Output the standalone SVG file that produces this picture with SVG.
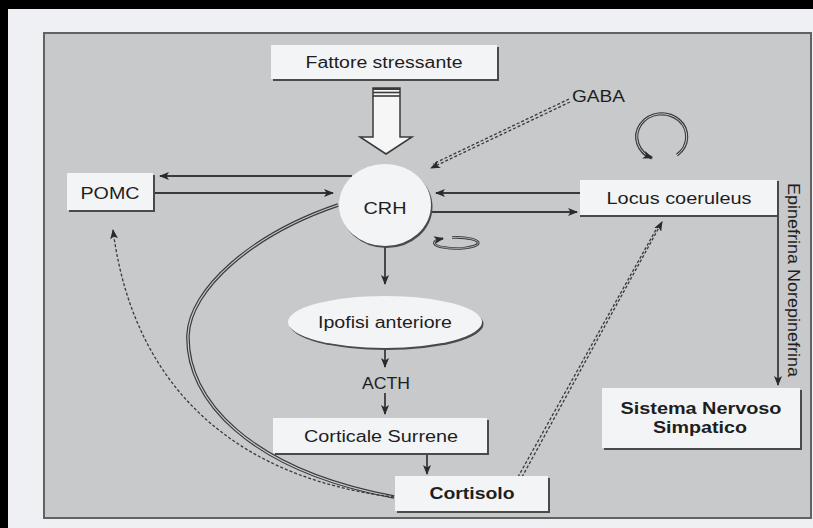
<svg xmlns="http://www.w3.org/2000/svg" width="813" height="528" viewBox="0 0 813 528">
<defs>
<style>
.t{font-family:"Liberation Sans",Arial,sans-serif;font-size:16px;fill:#1e1e1e}
.b{font-weight:bold}
.box{fill:#f3f4f6}
.sh{fill:#4a4a4a}
.ln{stroke:#3a3a3a;stroke-width:1.8;fill:none}
.dl{stroke:#3a3a3a;stroke-width:1.3;fill:none;stroke-dasharray:3 2}
</style>
<marker id="ah" viewBox="0 0 10 8" refX="9" refY="4" markerWidth="10" markerHeight="8" markerUnits="userSpaceOnUse" orient="auto">
<path d="M0,0 L10,4 L0,8 L2.5,4 Z" fill="#2a2a2a"/>
</marker>
</defs>
<rect x="0" y="0" width="813" height="528" fill="#eef0f3"/>
<rect x="0" y="0" width="813" height="9" fill="#000"/>
<rect x="0" y="0" width="8" height="528" fill="#000"/>
<rect x="44" y="33" width="767" height="485" fill="#c8c9cb" stroke="#626262" stroke-width="2"/>

<g id="connectors">
<line class="ln" x1="352" y1="176" x2="160" y2="176" marker-end="url(#ah)"/>
<line class="ln" x1="154" y1="193" x2="333" y2="193" marker-end="url(#ah)"/>
<line class="ln" x1="580" y1="193" x2="436" y2="193" marker-end="url(#ah)"/>
<line class="ln" x1="431" y1="212" x2="577" y2="212" marker-end="url(#ah)"/>
<line class="ln" x1="385" y1="247" x2="385" y2="284" marker-end="url(#ah)"/>
<line class="ln" x1="385" y1="349" x2="385" y2="367" marker-end="url(#ah)"/>
<line class="ln" x1="385" y1="393" x2="385" y2="414" marker-end="url(#ah)"/>
<line class="ln" x1="427" y1="454" x2="427" y2="474" marker-end="url(#ah)"/>
<line class="ln" x1="778" y1="181" x2="778" y2="385" marker-end="url(#ah)"/>
<!-- GABA double dashed -->
<line class="dl" x1="569" y1="99" x2="433" y2="164"/>
<line class="dl" x1="570" y1="102" x2="431" y2="168" marker-end="url(#ah)"/>
<!-- Cortisolo to Locus double dashed -->
<line class="dl" x1="518" y1="477" x2="658" y2="226"/>
<line class="dl" x1="522" y1="477" x2="662" y2="222" marker-end="url(#ah)"/>
<!-- double solid curve CRH to Cortisolo -->
<path d="M338,205 C250,235 190,290 188,335 C186,400 250,470 394,497" stroke="#3a3a3a" stroke-width="3.6" fill="none"/>
<path d="M338,205 C250,235 190,290 188,335 C186,400 250,470 394,497" stroke="#c8c9cb" stroke-width="1.2" fill="none"/>
<!-- dashed curve Cortisolo to POMC -->
<path class="dl" d="M394,497 C250,480 135,400 113,230" stroke-width="1.6" marker-end="url(#ah)"/>
<!-- Locus self loop -->
<path d="M677,155 A25,23 0 1 0 652,158" stroke="#3a3a3a" stroke-width="3.2" fill="none"/>
<path d="M677,155 A25,23 0 1 0 652,158" stroke="#c8c9cb" stroke-width="1" fill="none" marker-end="url(#ah)"/>
<!-- CRH small loop -->
<path d="M452,237.5 A22,5.5 0 1 1 443,238.5" stroke="#3a3a3a" stroke-width="2.6" fill="none"/>
<path d="M452,237.5 A22,5.5 0 1 1 443,238.5" stroke="#c8c9cb" stroke-width="0.8" fill="none" marker-end="url(#ah)"/>
</g>

<g id="fattore">
<rect class="sh" x="273" y="47" width="226" height="34"/>
<rect class="box" x="271" y="45" width="226" height="34"/>
<text class="t" x="384" y="68" text-anchor="middle" textLength="157" lengthAdjust="spacingAndGlyphs">Fattore stressante</text>
</g>

<g id="big-arrow">
<path d="M373,88 L400,88 L400,137 L412,137 L386,154 L360,137 L373,137 Z" fill="#f6f6f6" stroke="#3a3a3a" stroke-width="1.5"/>
<line x1="373" y1="89" x2="400" y2="89" stroke="#3a3a3a" stroke-width="2"/>
<line x1="373" y1="92.5" x2="400" y2="92.5" stroke="#3a3a3a" stroke-width="1.6"/>
<line x1="373" y1="96" x2="400" y2="96" stroke="#3a3a3a" stroke-width="1.6"/>
</g>

<g id="gaba">
<text class="t" x="572" y="102" textLength="53" lengthAdjust="spacingAndGlyphs">GABA</text>
</g>

<g id="pomc">
<rect class="sh" x="69" y="175" width="86" height="37"/>
<rect class="box" x="67" y="173" width="86" height="37"/>
<text class="t" x="110" y="199" text-anchor="middle" textLength="59" lengthAdjust="spacingAndGlyphs">POMC</text>
</g>

<g id="crh">
<ellipse cx="386.5" cy="207" rx="46" ry="41" fill="#4a4a4a"/>
<ellipse cx="385" cy="205" rx="46" ry="41" fill="#f3f4f6"/>
<text class="t" x="385" y="214" text-anchor="middle" textLength="43" lengthAdjust="spacingAndGlyphs">CRH</text>
</g>

<g id="locus">
<rect class="sh" x="580" y="182" width="197" height="35"/>
<rect class="box" x="580" y="180" width="197" height="35"/>
<text class="t" x="679" y="204" text-anchor="middle" textLength="145" lengthAdjust="spacingAndGlyphs">Locus coeruleus</text>
</g>

<g id="epinefrina">
<text class="t" transform="translate(788,280) rotate(90)" x="0" y="0" text-anchor="middle" textLength="194" lengthAdjust="spacingAndGlyphs">Epinefrina Norepinefrina</text>
</g>

<g id="ipofisi">
<ellipse cx="386.5" cy="324" rx="97" ry="26" fill="#4a4a4a"/>
<ellipse cx="385" cy="322" rx="97" ry="26" fill="#f3f4f6"/>
<text class="t" x="385" y="328" text-anchor="middle" textLength="134" lengthAdjust="spacingAndGlyphs">Ipofisi anteriore</text>
</g>

<g id="acth">
<text class="t" x="386" y="389" text-anchor="middle" textLength="48" lengthAdjust="spacingAndGlyphs">ACTH</text>
</g>

<g id="corticale">
<rect class="sh" x="275" y="420" width="214" height="35"/>
<rect class="box" x="273" y="418" width="214" height="35"/>
<text class="t" x="381" y="442" text-anchor="middle" textLength="154" lengthAdjust="spacingAndGlyphs">Corticale Surrene</text>
</g>

<g id="cortisolo">
<rect class="sh" x="397" y="478" width="153" height="35"/>
<rect class="box" x="395" y="476" width="153" height="35"/>
<text class="t b" x="472" y="499" text-anchor="middle" textLength="85" lengthAdjust="spacingAndGlyphs">Cortisolo</text>
</g>

<g id="sistema">
<rect class="sh" x="604" y="390" width="198" height="60"/>
<rect class="box" x="602" y="388" width="198" height="60"/>
<text class="t b" x="701" y="414" text-anchor="middle" textLength="161" lengthAdjust="spacingAndGlyphs">Sistema Nervoso</text>
<text class="t b" x="700" y="433" text-anchor="middle" textLength="94" lengthAdjust="spacingAndGlyphs">Simpatico</text>
</g>
</svg>
